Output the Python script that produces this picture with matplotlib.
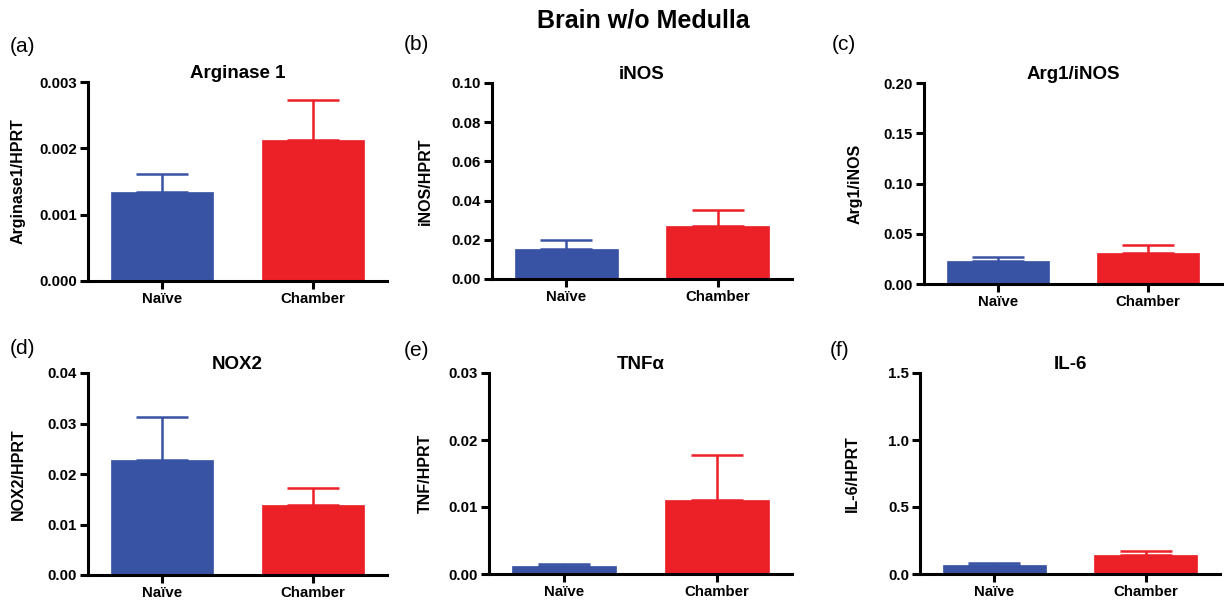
import matplotlib
matplotlib.use("Agg")
import matplotlib.pyplot as plt
from matplotlib.ticker import FixedLocator, FormatStrFormatter

plt.rcParams['font.family'] = ['Liberation Sans', 'DejaVu Sans']

groups = ["Naïve", "Chamber"]
colors = ["#3953A4", "#EC2027"]

titles = ["Arginase 1", "iNOS", "Arg1/iNOS", "NOX2", "TNF\u03b1", "IL-6"]
letters = ["(a)", "(b)", "(c)", "(d)", "(e)", "(f)"]
ylabels = ["Arginase1/HPRT", "iNOS/HPRT", "Arg1/iNOS", "NOX2/HPRT", "TNF/HPRT", "IL-6/HPRT"]

arg1_mean = [0.00134, 0.00213]
arg1_err = [0.00027, 0.00060]
inos_mean = [0.0155, 0.0269]
inos_err = [0.0046, 0.0083]
ratio_mean = [0.0232, 0.0306]
ratio_err = [0.0040, 0.0080]
nox2_mean = [0.0227, 0.0139]
nox2_err = [0.0085, 0.0034]
tnf_mean = [0.0012, 0.0110]
tnf_err = [0.0003, 0.0068]
il6_mean = [0.067, 0.140]
il6_err = [0.015, 0.032]

means = [arg1_mean, inos_mean, ratio_mean, nox2_mean, tnf_mean, il6_mean]
errs = [arg1_err, inos_err, ratio_err, nox2_err, tnf_err, il6_err]

yticks = [
    [0.000, 0.001, 0.002, 0.003],
    [0.00, 0.02, 0.04, 0.06, 0.08, 0.10],
    [0.00, 0.05, 0.10, 0.15, 0.20],
    [0.00, 0.01, 0.02, 0.03, 0.04],
    [0.00, 0.01, 0.02, 0.03],
    [0.0, 0.5, 1.0, 1.5],
]
yfmt = ["%.3f", "%.2f", "%.2f", "%.2f", "%.2f", "%.1f"]

W, H = 1224, 603
fig = plt.figure(figsize=(W / 100, H / 100), dpi=100)

# axes rectangles in pixels: left, right, top, bottom
rects_px = [
    (88, 387, 82, 281),
    (492, 792, 83, 279),
    (924, 1222, 83, 284),
    (88, 387, 373, 575),
    (489, 792, 373, 574),
    (920, 1220, 373, 574),
]
ylabel_x = [18, 425, 855, 18, 425, 852]
letter_pos = [(10, 46), (404, 44), (832, 44), (10, 348), (404, 350), (830, 350)]
title_y = [55, 55, 55, 345, 345, 345]

for i in range(6):
    l, r, t, b = rects_px[i]
    ax = fig.add_axes([l / W, 1 - b / H, (r - l) / W, (b - t) / H])
    x = [0, 1]
    ax.bar(x, means[i], width=0.68, color=colors, edgecolor=colors, linewidth=0.5, zorder=2)
    for j in range(2):
        ax.errorbar(x[j], means[i][j], yerr=[[0], [errs[i][j]]], fmt='none',
                    ecolor=colors[j], elinewidth=1.8, capsize=19, capthick=1.8, zorder=1)
    ax.set_xlim(-0.49, 1.49)
    ax.set_ylim(yticks[i][0], yticks[i][-1])
    ax.yaxis.set_major_locator(FixedLocator(yticks[i]))
    ax.yaxis.set_major_formatter(FormatStrFormatter(yfmt[i]))
    ax.set_xticks(x)
    ax.set_xticklabels(groups)
    for s in ["top", "right"]:
        ax.spines[s].set_visible(False)
    for s in ["left", "bottom"]:
        ax.spines[s].set_linewidth(2.2)
    ax.tick_params(axis='both', width=2.2, length=6, labelsize=10.8, pad=2)
    for lab in ax.get_xticklabels() + ax.get_yticklabels():
        lab.set_fontweight('bold')
    ax.set_title(titles[i], fontsize=13.5, fontweight='bold')
    ax.title.set_position(((0.5), 1))
    ax.title.set_y(1 - (title_y[i] - t) / (b - t))
    ax.title.set_verticalalignment('center')
    fig.text(ylabel_x[i] / W, 1 - ((t + b) / 2) / H, ylabels[i], rotation=90,
             ha='center', va='center', fontsize=11.5, fontweight='bold')
    fig.text(letter_pos[i][0] / W, 1 - letter_pos[i][1] / H, letters[i],
             ha='left', va='center', fontsize=15)

fig.text(643 / W, 1 - 20 / H, "Brain w/o Medulla", ha='center', va='center',
         fontsize=18, fontweight='bold')

fig.savefig("out.png", dpi=100)
